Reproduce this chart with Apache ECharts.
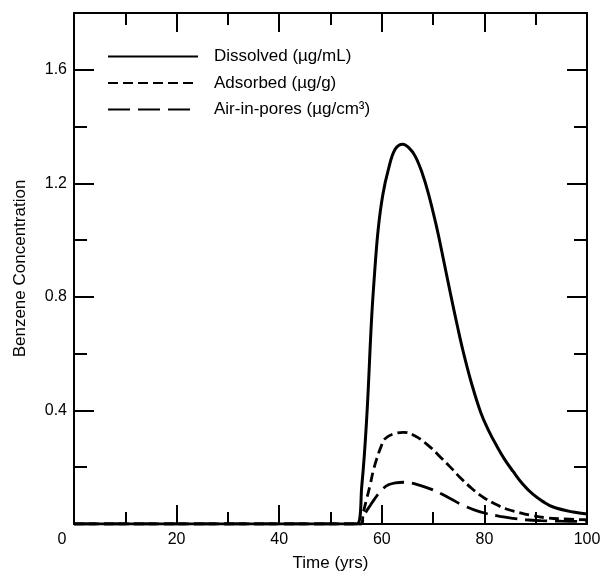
<!DOCTYPE html>
<html>
<head>
<meta charset="utf-8">
<script src="https://cdn.jsdelivr.net/npm/echarts@6/dist/echarts.min.js"></script>
<style>
  html, body { margin: 0; padding: 0; background: #fff; }
  #chart { width: 608px; height: 574px; }
</style>
</head>
<body>
<div id="chart"></div>
<script>
// values (time in yrs, concentration)
const dissolvedTime = [0, 55.1, 56.1, 57.05, 58.0, 58.6, 59.3, 60.2, 61.3, 62.6, 64.1, 65.3, 66.5, 67.8, 69.1, 70.7, 71.7, 73.4, 74.7, 75.9, 77.5, 79.3, 80.8, 82.4, 84, 85.6, 87.5, 89.5, 91.5, 93.4, 97.3, 100];
const dissolvedConc = [0, 0, 0.134, 0.37, 0.72, 0.885, 1.039, 1.16, 1.25, 1.32, 1.338, 1.325, 1.296, 1.24, 1.163, 1.045, 0.96, 0.81, 0.70, 0.605, 0.495, 0.392, 0.33, 0.275, 0.226, 0.185, 0.14, 0.104, 0.078, 0.06, 0.042, 0.035];

const adsorbedTime = [0, 55.9, 56.4, 57.0, 57.7, 58.3, 59.0, 59.8, 60.6, 62.2, 64.2, 66.5, 69.1, 71.3, 73.6, 75.2, 77.5, 79.8, 82, 84.3, 87, 89.5, 92, 95, 100];
const adsorbedConc = [0, 0, 0.041, 0.085, 0.135, 0.185, 0.229, 0.27, 0.30, 0.317, 0.323, 0.31, 0.276, 0.238, 0.196, 0.165, 0.126, 0.094, 0.071, 0.053, 0.039, 0.029, 0.022, 0.018, 0.015];

const airTime = [0, 56.0, 56.4, 57.0, 57.7, 58.5, 59.3, 60.2, 61.3, 62.7, 64.2, 65.8, 67.6, 69.7, 71.3, 73.5, 75.8, 78, 80.4, 83, 85.6, 88, 91, 95, 100];
const airConc = [0, 0, 0.024, 0.045, 0.064, 0.086, 0.106, 0.124, 0.138, 0.145, 0.147, 0.144, 0.135, 0.122, 0.109, 0.088, 0.066, 0.05, 0.037, 0.027, 0.02, 0.015, 0.012, 0.01, 0.009];

const seriesNames = ["Dissolved (µg/mL)", "Adsorbed (µg/g)", "Air-in-pores (µg/cm³)"];
const xTickLabels = [0, 20, 40, 60, 80, 100];
const yTickLabels = [0.4, 0.8, 1.2, 1.6];

const FONT = "'Liberation Sans', Arial, Helvetica, sans-serif";
const pairs = (xs, ys) => xs.map((x, i) => [x, ys[i]]);
const isLabel = (list, v) => list.some((t) => Math.abs(t - v) < 1e-6);

const chart = echarts.init(document.getElementById("chart"), null, { renderer: "canvas" });

const black = { color: "#000", width: 2 };
const xAxisBase = {
  type: "value", min: 0, max: 100, interval: 20,
  axisLine: { show: true, onZero: false, lineStyle: black },
  axisTick: { show: true, inside: true, length: 19, lineStyle: black },
  minorTick: { show: true, splitNumber: 2, length: 12, lineStyle: black },
  splitLine: { show: false },
  minorSplitLine: { show: false },
};
// short ticks every 0.2, long ticks every 0.4 (two stacked axes per side)
const yMinor = {
  type: "value", min: 0, max: 1.8, interval: 0.2,
  axisLine: { show: true, onZero: false, lineStyle: black },
  axisTick: { show: true, inside: true, length: 13, lineStyle: black },
  splitLine: { show: false },
};
const yMajor = {
  type: "value", min: 0, max: 1.8, interval: 0.4,
  axisLine: { show: false, onZero: false },
  axisTick: { show: true, inside: true, length: 20, lineStyle: black },
  axisLabel: { show: false },
  splitLine: { show: false },
};

const lineSeries = (name, xs, ys, width, type) => ({
  name, type: "line", xAxisIndex: 0, yAxisIndex: 0,
  data: pairs(xs, ys),
  symbol: "none", smooth: 0.4,
  lineStyle: { color: "#000", width, type },
  itemStyle: { color: "#000" },
});

chart.setOption({
  animation: false,
  backgroundColor: "#fff",
  textStyle: { fontFamily: FONT, color: "#000" },
  grid: { left: 74, right: 21, top: 13, bottom: 50, outerBoundsMode: "none" },
  legend: {
    orient: "vertical",
    left: 107,
    top: 48,
    padding: 0,
    itemWidth: 90,
    itemHeight: 14,
    itemGap: 9.5,
    selectedMode: false,
    data: seriesNames,
    itemStyle: { color: "rgba(0,0,0,0)", borderColor: "rgba(0,0,0,0)", borderWidth: 0 },
    textStyle: {
      fontFamily: FONT, fontSize: 17, color: "#000", lineHeight: 14,
      padding: [0, 0, 0, 11],
    },
  },
  xAxis: [
    Object.assign({}, xAxisBase, {
      position: "bottom",
      name: "Time (yrs)",
      nameLocation: "middle",
      nameGap: 31,
      nameTextStyle: { fontFamily: FONT, fontSize: 17, color: "#000" },
      axisLabel: {
        show: true, margin: 8, color: "#000", fontFamily: FONT, fontSize: 16,
        formatter: (v) => (isLabel(xTickLabels, v) ? (v === 0 ? "{zero|0}" : String(v)) : ""),
        rich: { zero: { fontFamily: FONT, fontSize: 16, color: "#000", padding: [0, 24, 0, 0] } },
      },
    }),
    Object.assign({}, xAxisBase, { position: "top", axisLabel: { show: false } }),
  ],
  yAxis: [
    Object.assign({}, yMinor, {
      position: "left",
      name: "Benzene Concentration",
      nameLocation: "middle",
      nameGap: 45,
      nameTextStyle: { fontFamily: FONT, fontSize: 17, color: "#000" },
      axisLabel: {
        show: true, margin: 7, color: "#000", fontFamily: FONT, fontSize: 16,
        formatter: (v) => (isLabel(yTickLabels, v) ? v.toFixed(1) : ""),
      },
    }),
    Object.assign({}, yMajor, { position: "left" }),
    Object.assign({}, yMinor, { position: "right", axisLabel: { show: false } }),
    Object.assign({}, yMajor, { position: "right" }),
  ],
  series: [
    lineSeries(seriesNames[0], dissolvedTime, dissolvedConc, 3, "solid"),
    lineSeries(seriesNames[1], adsorbedTime, adsorbedConc, 2.8, [10, 5]),
    lineSeries(seriesNames[2], airTime, airConc, 2.8, [22, 8]),
  ],
});
</script>
</body>
</html>
